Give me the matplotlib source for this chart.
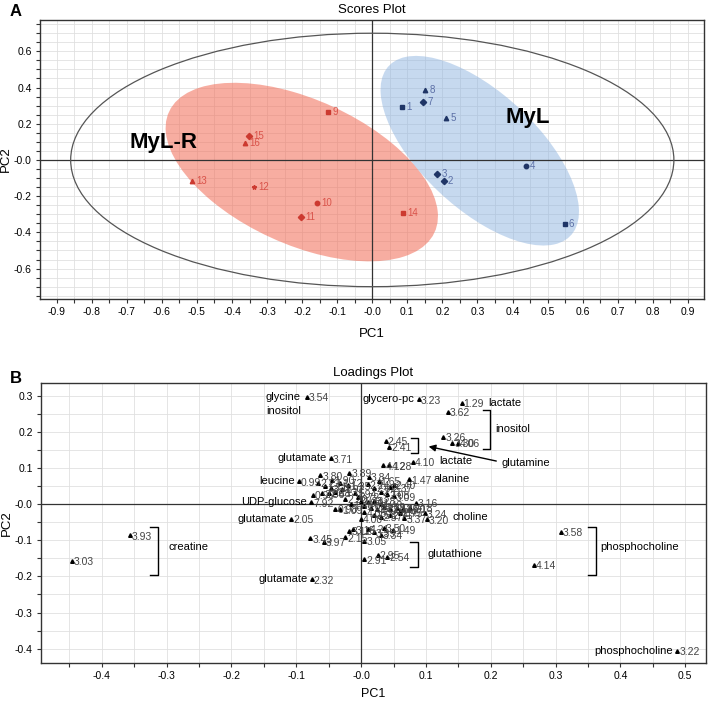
import matplotlib
matplotlib.use('Agg')
from matplotlib import pyplot as plt
from matplotlib.patches import Ellipse
from matplotlib.ticker import MultipleLocator, FuncFormatter

plt.rcParams['font.family'] = ['Liberation Sans', 'DejaVu Sans']

# ---- scores plot data ----
sample_ids = ['1', '2', '3', '4', '5', '6', '7', '8',
              '9', '10', '11', '12', '13', '14', '15', '16']
score_pc1 = [0.084, 0.204, 0.185, 0.437, 0.211, 0.549, 0.146, 0.151,
             -0.125, -0.157, -0.204, -0.337, -0.513, 0.088, -0.352, -0.363]
score_pc2 = [0.291, -0.116, -0.077, -0.031, 0.234, -0.355, 0.322, 0.387,
             0.265, -0.240, -0.313, -0.147, -0.118, -0.295, 0.133, 0.092]
score_group = ['MyL'] * 8 + ['MyL-R'] * 8
score_marker = ['s', 'D', 'D', 'o', '^', 's', 'D', '^',
                's', 'o', 'D', '*', '^', 's', 'D', '^']

# confidence ellipses: (cx, cy, width, height, angle)
hotelling = (0.0, 0.0, 1.72, 1.40, 0)
ell_myl_r = (-0.201, -0.067, 1.10, 0.605, -58)
ell_myl = (0.3065, 0.051, 1.119, 0.406, -67.8)

# ---- loadings plot data ----
load_lbl = ['3.54', '3.71', '0.99', '7.92', '0.90', '2.05', '3.93', '3.03',
            '3.45', '3.97', '2.32', '2.15', '3.12', '3.23', '1.29', '3.62',
            '3.26', '3.30', '4.06', '2.45', '2.41', '4.12', '4.28', '4.10',
            '1.47', '3.16', '3.20', '3.24', '3.37', '1.75', '3.58', '4.14',
            '3.22', '2.91', '2.95', '2.54', '3.05', '1.49',
            '3.80', '2.22', '1.90', '1.72', '2.06', '2.68', '2.13', '1.92',
            '3.76', '1.25', '3.89', '3.84', '1.65', '2.24', '2.40', '2.37',
            '2.02', '2.11', '2.08', '3.09', '1.94', '3.72', '1.33', '0.91',
            '3.28', '1.43', '2.20', '1.48', '0.98', '1.09', '1.06', '1.12',
            '1.81', '2.29', '2.14', '2.26', '1.20', '1.18', '2.47', '4.05',
            '2.53', '2.57', '2.71', '3.15', '4.21', '3.39', '3.34', '3.50',
            '1.71', '4.00']
load_pc1 = [-0.0834, -0.0464, -0.096, -0.0768, -0.0747, -0.108, -0.357, -0.446,
            -0.0783, -0.0572, -0.0762, -0.0248, -0.018, 0.0893, 0.155, 0.134,
            0.1268, 0.1407, 0.149, 0.038, 0.0435, 0.0343, 0.0435, 0.0795,
            0.0734, 0.0842, 0.101, 0.0986, 0.0667, 0.060, 0.308, 0.266,
            0.488, 0.005, 0.0256, 0.0404, 0.005, 0.0487,
            -0.063, -0.066, -0.045, -0.032, -0.060, -0.050, -0.040, -0.030,
            -0.047, -0.020, -0.018, 0.012, 0.027, 0.010, 0.050, 0.045,
            0.020, 0.030, 0.040, 0.050, -0.010, -0.005, 0.000, 0.010,
            0.020, 0.030, -0.025, -0.015, -0.040, -0.032, 0.005, 0.015,
            0.025, 0.035, 0.045, 0.055, 0.065, 0.075, 0.060, 0.005,
            0.020, 0.030, 0.045, -0.012, 0.010, 0.020, 0.030, 0.035,
            -0.055, 0.000]
load_pc2 = [0.298, 0.1275, 0.064, 0.0055, 0.026, -0.041, -0.086, -0.156,
            -0.094, -0.1045, -0.208, -0.0914, -0.073, 0.291, 0.2816, 0.2567,
            0.1874, 0.1707, 0.1707, 0.1754, 0.1597, 0.108, 0.108, 0.118,
            0.069, 0.0044, -0.0416, -0.025, -0.039, -0.023, -0.076, -0.168,
            -0.4065, -0.1524, -0.1405, -0.145, -0.1017, -0.071,
            0.080, 0.060, 0.068, 0.060, 0.030, 0.032, 0.034, 0.042,
            0.044, 0.052, 0.087, 0.076, 0.065, 0.055, 0.053, 0.047,
            0.045, 0.035, 0.028, 0.022, 0.030, 0.020, 0.010, 0.005,
            0.010, 0.000, 0.015, 0.000, -0.012, -0.014, -0.005, -0.010,
            -0.012, -0.008, -0.012, -0.010, -0.012, -0.010, -0.020, -0.022,
            -0.030, -0.035, -0.030, -0.070, -0.068, -0.078, -0.085, -0.065,
            0.050, -0.040]

# metabolite names written left of a loading point
left_names = {'3.71': 'glutamate', '0.99': 'leucine', '7.92': 'UDP-glucose',
              '2.05': 'glutamate', '2.32': 'glutamate', '3.23': 'glycero-pc',
              '3.22': 'phosphocholine'}
# free text notes (text, x, y)
notes = [('glycine', -0.147, 0.2965), ('inositol', -0.147, 0.2585),
         ('lactate', 0.196, 0.2815), ('inositol', 0.2076, 0.2095),
         ('lactate', 0.1206, 0.1208), ('glutamine', 0.2168, 0.1136),
         ('alanine', 0.111, 0.069), ('choline', 0.1407, -0.036),
         ('creatine', -0.297, -0.1175), ('glutathione', 0.102, -0.1385),
         ('phosphocholine', 0.3685, -0.119)]
# brackets (x, y_top, y_bottom, tick length)
brackets = [(-0.3128, -0.062, -0.196, 0.013), (0.1988, 0.261, 0.153, 0.011),
            (0.0873, 0.1845, 0.141, 0.010), (0.0873, -0.105, -0.173, 0.012),
            (0.3618, -0.062, -0.196, 0.012)]


def fmt(v, pos):
    if abs(v) < 1e-9:
        return '-0.0'
    return '%.1f' % v


def style_axes(ax, xmaj, ymaj):
    ax.xaxis.set_major_locator(MultipleLocator(xmaj))
    ax.yaxis.set_major_locator(MultipleLocator(ymaj))
    ax.xaxis.set_minor_locator(MultipleLocator(0.05))
    ax.yaxis.set_minor_locator(MultipleLocator(0.05))
    ax.xaxis.set_major_formatter(FuncFormatter(fmt))
    ax.yaxis.set_major_formatter(FuncFormatter(fmt))
    ax.grid(True, which='both', color='#e0e0e0', linewidth=0.6, zorder=0)
    ax.set_axisbelow(True)
    ax.tick_params(which='major', direction='out', length=3, width=0.8,
                   color='#333333', labelsize=7.5, pad=3)
    ax.tick_params(which='minor', direction='out', length=3, width=0.8,
                   color='#333333')
    for s in ax.spines.values():
        s.set_color('#333333')
        s.set_linewidth(1)
    ax.axhline(0, color='#333333', linewidth=0.9, zorder=2)
    ax.axvline(0, color='#333333', linewidth=0.9, zorder=2)


fig = plt.figure(figsize=(7.09, 7.02), dpi=100)

# ---------------- A: scores ----------------
ax1 = fig.add_axes([0.0564, 0.5741, 0.9366, 0.3974])
ax1.set_xlim(-0.9475, 0.946)
ax1.set_ylim(-0.768, 0.773)
style_axes(ax1, 0.1, 0.2)

cx, cy, w, h, a = ell_myl_r
ax1.add_patch(Ellipse((cx, cy), w, h, angle=a, facecolor='#f26b55',
                      alpha=0.55, edgecolor='none', zorder=1))
cx, cy, w, h, a = ell_myl
ax1.add_patch(Ellipse((cx, cy), w, h, angle=a, facecolor='#8fb4e0',
                      alpha=0.5, edgecolor='none', zorder=1))
cx, cy, w, h, a = hotelling
ax1.add_patch(Ellipse((cx, cy), w, h, angle=a, facecolor='none',
                      edgecolor='#555555', linewidth=0.9, zorder=3))

for i in range(len(sample_ids)):
    if score_group[i] == 'MyL':
        mc, tc = '#1f3566', '#5b6fa6'
    else:
        mc, tc = '#cc3a30', '#d9534a'
    ax1.plot(score_pc1[i], score_pc2[i], marker=score_marker[i], color=mc,
             markersize=3.2, linestyle='none', zorder=4)
    ax1.annotate(sample_ids[i], (score_pc1[i], score_pc2[i]), xytext=(3, 0),
                 textcoords='offset points', va='center', ha='left',
                 fontsize=7, color=tc, zorder=5)

ax1.text(-0.595, 0.094, 'MyL-R', fontsize=16, fontweight='bold',
         ha='center', va='center', zorder=5)
ax1.text(0.444, 0.232, 'MyL', fontsize=16, fontweight='bold',
         ha='center', va='center', zorder=5)
ax1.set_title('Scores Plot', fontsize=9.5, pad=5)
ax1.set_xlabel('PC1', fontsize=9.5, labelpad=8)
ax1.set_ylabel('PC2', fontsize=9.5, labelpad=1)
fig.text(0.014, 0.983, 'A', fontsize=12, fontweight='bold', va='center')

# ---------------- B: loadings ----------------
ax2 = fig.add_axes([0.0578, 0.0560, 0.9380, 0.398])
ax2.set_xlim(-0.4937, 0.532)
ax2.set_ylim(-0.439, 0.335)
style_axes(ax2, 0.1, 0.1)

ax2.plot(load_pc1, load_pc2, '^', color='black', markersize=2.6, zorder=4)
for x, y, t in zip(load_pc1, load_pc2, load_lbl):
    ax2.annotate(t, (x, y), xytext=(1.5, -1), textcoords='offset points',
                 va='center', ha='left', fontsize=7.5, color='#444444',
                 zorder=5)
    if t in left_names:
        ax2.annotate(left_names[t], (x, y), xytext=(-3, 0),
                     textcoords='offset points', va='center', ha='right',
                     fontsize=8, color='black', zorder=5)

for t, x, y in notes:
    ax2.text(x, y, t, fontsize=8, ha='left', va='center', zorder=5)

for x, y0, y1, tl in brackets:
    ax2.plot([x - tl, x, x, x - tl], [y0, y0, y1, y1], color='black',
             linewidth=1, zorder=5)

ax2.annotate('', xy=(0.100, 0.1615), xytext=(0.2127, 0.118),
             arrowprops=dict(arrowstyle='-|>', color='black', lw=1,
                             mutation_scale=10), zorder=5)

ax2.set_title('Loadings Plot', fontsize=9.5, pad=5)
ax2.set_xlabel('PC1', fontsize=9, labelpad=5)
ax2.set_ylabel('PC2', fontsize=9.5, labelpad=1)
fig.text(0.014, 0.461, 'B', fontsize=12, fontweight='bold', va='center')

fig.savefig('out.png', dpi=100)
